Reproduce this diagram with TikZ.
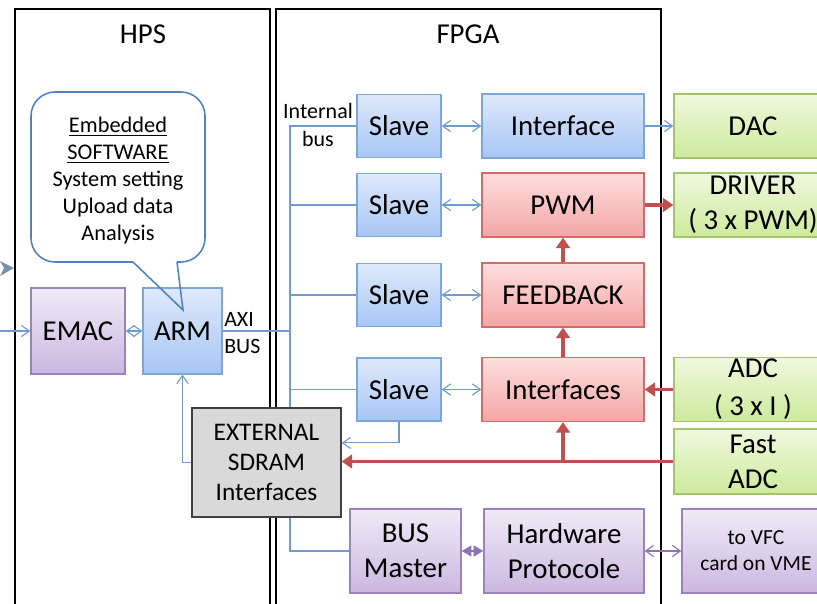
\documentclass[tikz,border=0pt]{standalone}
\usepackage{fontspec}
\setmainfont{Carlito}
\usetikzlibrary{arrows.meta, positioning}

\definecolor{blueline}{HTML}{7DA7D9}
\definecolor{bluetop}{HTML}{DFE9FB}
\definecolor{bluebot}{HTML}{A8C6F5}
\definecolor{redline}{HTML}{D46A6A}
\definecolor{redtop}{HTML}{FFDEDE}
\definecolor{redbot}{HTML}{F3A6A6}
\definecolor{greenline}{HTML}{A4C46A}
\definecolor{greentop}{HTML}{EFF8DE}
\definecolor{greenbot}{HTML}{CDEA9C}
\definecolor{purpleline}{HTML}{9B82BD}
\definecolor{purpletop}{HTML}{F0EBF7}
\definecolor{purplebot}{HTML}{CBB7E0}
\definecolor{connblue}{HTML}{6F9BD1}
\definecolor{redarrow}{HTML}{C0504D}
\definecolor{purplearrow}{HTML}{8E72B5}
\definecolor{bubbleline}{HTML}{4F81BD}

\tikzset{
    box/.style={rectangle, line width=0.9pt, align=center, inner sep=0pt,
        font=\fontsize{20.5}{25}\selectfont},
    bluebox/.style={box, draw=blueline, top color=bluetop, bottom color=bluebot},
    redbox/.style={box, draw=redline, top color=redtop, bottom color=redbot},
    greenbox/.style={box, draw=greenline, top color=greentop, bottom color=greenbot},
    purplebox/.style={box, draw=purpleline, top color=purpletop, bottom color=purplebot},
    slavebox/.style={bluebox, minimum width=2.1cm, minimum height=1.575cm},
    blockbox/.style={minimum width=4.05cm, minimum height=1.6cm},
    outbox/.style={greenbox, minimum width=3.95cm, minimum height=1.6cm},
    smalltext/.style={font=\fontsize{15.6}{19.2}\selectfont, align=center, inner sep=0pt},
    conn/.style={draw=connblue, line width=0.8pt},
    barb/.style={-{Straight Barb[length=2mm,width=2.8mm]}},
    dbarb/.style={{Straight Barb[length=2mm,width=2.8mm]}-{Straight Barb[length=2mm,width=2.8mm]}},
    thickred/.style={draw=redarrow, line width=2.8pt, -{Triangle[length=2.6mm,width=3.4mm]}},
}

\begin{document}
\begin{tikzpicture}[x=0.025cm, y=-0.025cm]

    \useasboundingbox (0,0) rectangle (817,604);
    \clip (0,0) rectangle (817,604);

    % Frames
    \draw[line width=1.4pt] (15,9) rectangle (270,630);
    \draw[line width=1.4pt] (276,9) rectangle (661,630);
    \node[font=\fontsize{20.5}{25}\selectfont] (hps) at (143,34) {HPS};
    \node[font=\fontsize{20.5}{25}\selectfont] (fpga) at (468,34) {FPGA};

    % Arrow coming in from the left
    \fill[connblue!60!gray] (0,261) -- (14,268) -- (0,276) -- (4,268) -- cycle;

    % HPS blocks
    \node[purplebox, minimum width=2.35cm, minimum height=2.15cm] (emac) at (78,331) {EMAC};
    \node[bluebox, minimum width=1.975cm, minimum height=2.15cm] (arm) at (182.5,331) {ARM};
    \node[smalltext, align=left, anchor=west] (axi) at (224,333) {AXI\\BUS};

    % Software bubble
    \draw[bubbleline, line width=1.1pt, fill=white, rounded corners=0.6cm]
        (133,262) -- (31,262) -- (31,92) -- (205,92) -- (205,262) -- (177,262);
    \draw[bubbleline, line width=1.1pt, line join=miter]
        (133,262) -- (183,310) -- (177,262);
    \node[smalltext, font=\fontsize{15.9}{19.2}\selectfont] (soft) at (118,181)
        {\underline{Embedded}\\ \underline{SOFTWARE}\\ System setting\\ Upload data\\ Analysis};

    % Slaves
    \node[slavebox] (s1) at (399,126) {Slave};
    \node[slavebox] (s2) at (399,205) {Slave};
    \node[slavebox] (s3) at (399,295) {Slave};
    \node[slavebox] (s4) at (399,389.5) {Slave};
    \node[smalltext] (ibus) at (318,125) {Internal\\[1pt]bus};

    % FPGA blocks
    \node[bluebox, blockbox] (iface) at (563,126) {Interface};
    \node[redbox, blockbox] (pwm) at (563,205) {PWM};
    \node[redbox, blockbox] (fb) at (563,295) {FEEDBACK};
    \node[redbox, blockbox] (ifaces) at (563,389.5) {Interfaces};
    \node[purplebox, minimum width=2.775cm, minimum height=2.1cm] (bm) at (405.5,551) {BUS\\Master};
    \node[purplebox, minimum width=4cm, minimum height=2.1cm] (hw) at (564,551) {Hardware\\Protocole};

    % Outside blocks
    \node[outbox] (dac) at (753,126) {DAC};
    \node[outbox] (drv) at (753,205) {DRIVER\\( 3 x PWM)};
    \node[outbox] (adc) at (753,389.5) {ADC\\[2pt]( 3 x I )};
    \node[outbox, minimum height=1.625cm] (fadc) at (753,461.5) {Fast\\ADC};
    \node[purplebox, minimum width=3.7cm, minimum height=2.1cm,
        font=\fontsize{15.3}{18.5}\selectfont] (vfc) at (756,551) {to VFC\\card on VME};

    % Internal bus
    \coordinate (busB) at (290,551);
    \draw[conn] (s1.west) -| (busB) -- (bm.west);
    \draw[conn] (s2.west) -- (s2.west -| busB);
    \draw[conn] (s3.west) -- (s3.west -| busB);
    \draw[conn] (s4.west) -- (s4.west -| busB);
    \draw[conn] (arm.east) -- (arm.east -| busB);

    % SDRAM
    \node[box, draw=black!75, fill=black!15, minimum width=3.725cm, minimum height=2.725cm,
        font=\fontsize{18}{21.3}\selectfont] (ext) at (266.5,462.5) {EXTERNAL\\SDRAM\\Interfaces};

    % Blue links
    \draw[conn, barb] (0,331) -- (emac.west);
    \draw[conn, dbarb] (emac.east) -- (arm.west);
    \draw[conn, barb] (ext.west) -| (arm.south);
    \draw[conn, barb] (s4.south) |- ([yshift=0.49cm]ext.east);
    \draw[conn, dbarb] (s1.east) -- (iface.west);
    \draw[conn, dbarb] (s2.east) -- (pwm.west);
    \draw[conn, dbarb] (s3.east) -- (fb.west);
    \draw[conn, dbarb] (s4.east) -- (ifaces.west);
    \draw[conn, barb] (iface.east) -- (dac.west);

    % Red links
    \draw[thickred] (pwm.east) -- (drv.west);
    \draw[thickred] (fb.north) -- (pwm.south);
    \draw[thickred] (ifaces.north) -- (fb.south);
    \draw[thickred] (adc.west) -- (ifaces.east);
    \draw[thickred] (fadc.west) -- (fadc.west -| ext.east);
    \draw[thickred] (fadc.west -| ifaces.south) -- (ifaces.south);

    % Purple links
    \draw[purplearrow, line width=1.6pt,
        {Triangle[length=2.4mm,width=2.6mm]}-{Triangle[length=2.4mm,width=2.6mm]}] (bm.east) -- (hw.west);
    \draw[purplearrow, line width=0.8pt, dbarb] (hw.east) -- (vfc.west);

\end{tikzpicture}
\end{document}
